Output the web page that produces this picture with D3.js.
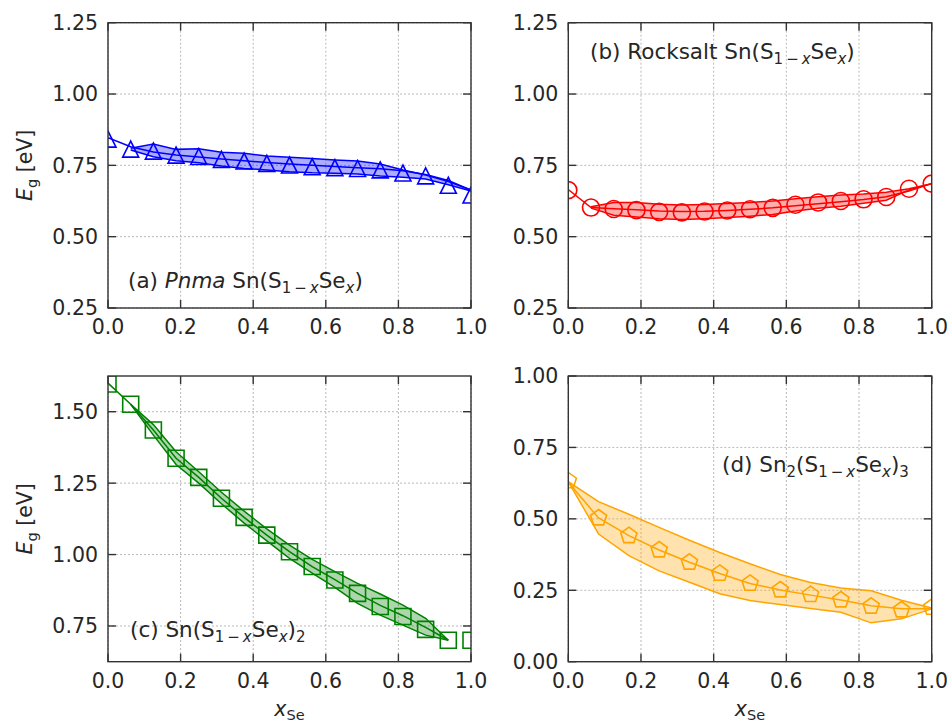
<!DOCTYPE html>
<html><head><meta charset="utf-8">
<script src="https://cdn.jsdelivr.net/npm/d3@7"></script>
<style>
body{margin:0;background:#fff}
svg{display:block}
text{font-family:"DejaVu Sans",sans-serif;fill:#262626}
</style>
</head><body>
<svg id="chart" width="948" height="724"></svg>
<script>
// ---------- tick values / labels ----------
const xTicks = [0.0, 0.2, 0.4, 0.6, 0.8, 1.0];
const xTickLabels = ["0.0", "0.2", "0.4", "0.6", "0.8", "1.0"];
const yTicksAB = [0.25, 0.50, 0.75, 1.00, 1.25];
const yTickLabelsAB = ["0.25", "0.50", "0.75", "1.00", "1.25"];
const yTicksC = [0.75, 1.00, 1.25, 1.50];
const yTickLabelsC = ["0.75", "1.00", "1.25", "1.50"];
const yTicksD = [0.00, 0.25, 0.50, 0.75, 1.00];
const yTickLabelsD = ["0.00", "0.25", "0.50", "0.75", "1.00"];

// ---------- compositions ----------
const x16 = [0, 0.0625, 0.125, 0.1875, 0.25, 0.3125, 0.375, 0.4375, 0.5, 0.5625, 0.625, 0.6875, 0.75, 0.8125, 0.875, 0.9375, 1.0];
const x16band = [0.0625, 0.125, 0.1875, 0.25, 0.3125, 0.375, 0.4375, 0.5, 0.5625, 0.625, 0.6875, 0.75, 0.8125, 0.875, 0.9375, 1.0];
const x16c = [0, 0.0625, 0.125, 0.1875, 0.25, 0.3125, 0.375, 0.4375, 0.5, 0.5625, 0.625, 0.6875, 0.75, 0.8125, 0.875, 0.9375];
const x16cBand = [0.0625, 0.125, 0.1875, 0.25, 0.3125, 0.375, 0.4375, 0.5, 0.5625, 0.625, 0.6875, 0.75, 0.8125, 0.875, 0.9375];
const x12 = [0, 0.0833, 0.1667, 0.25, 0.3333, 0.4167, 0.5, 0.5833, 0.6667, 0.75, 0.8333, 0.9167, 1.0];

// ---------- (a) Pnma Sn(S1-xSex) ----------
const pnmaMarkers = [0.842, 0.807, 0.800, 0.786, 0.781, 0.771, 0.765, 0.757, 0.751, 0.745, 0.742, 0.739, 0.734, 0.723, 0.713, 0.680, 0.646];
const pnmaLine    = [0.847, 0.815, 0.797, 0.786, 0.779, 0.772, 0.766, 0.760, 0.755, 0.750, 0.746, 0.742, 0.738, 0.731, 0.718, 0.697, 0.663];
const pnmaUpper   = [0.810, 0.825, 0.806, 0.808, 0.796, 0.792, 0.783, 0.778, 0.774, 0.769, 0.765, 0.755, 0.734, 0.716, 0.693, 0.663];
const pnmaLower   = [0.804, 0.780, 0.766, 0.759, 0.748, 0.739, 0.734, 0.728, 0.724, 0.722, 0.720, 0.713, 0.708, 0.702, 0.682, 0.660];

// ---------- (b) Rocksalt Sn(S1-xSex) ----------
const rsMarkers = [0.663, 0.602, 0.597, 0.593, 0.587, 0.585, 0.588, 0.592, 0.596, 0.601, 0.612, 0.620, 0.625, 0.631, 0.639, 0.668, 0.686];
const rsLine    = [0.665, 0.602, 0.598, 0.594, 0.590, 0.588, 0.589, 0.592, 0.596, 0.601, 0.608, 0.615, 0.622, 0.630, 0.640, 0.660, 0.686];
const rsUpper   = [0.605, 0.620, 0.620, 0.614, 0.611, 0.613, 0.616, 0.620, 0.625, 0.633, 0.640, 0.646, 0.650, 0.656, 0.668, 0.686];
const rsLower   = [0.600, 0.575, 0.569, 0.563, 0.560, 0.563, 0.567, 0.572, 0.578, 0.590, 0.600, 0.607, 0.617, 0.628, 0.664, 0.686];

// ---------- (c) Sn(S1-xSex)2 ----------
const s2Markers = [1.597, 1.526, 1.436, 1.337, 1.270, 1.197, 1.130, 1.068, 1.010, 0.958, 0.911, 0.864, 0.818, 0.783, 0.738, 0.700, 0.700];
const s2Line    = [1.600, 1.526, 1.436, 1.337, 1.270, 1.197, 1.130, 1.068, 1.010, 0.958, 0.912, 0.864, 0.822, 0.786, 0.745, 0.700];
const s2Upper   = [1.526, 1.455, 1.360, 1.290, 1.218, 1.152, 1.090, 1.033, 0.983, 0.940, 0.899, 0.862, 0.823, 0.777, 0.700];
const s2Lower   = [1.526, 1.418, 1.315, 1.250, 1.178, 1.110, 1.048, 0.987, 0.935, 0.885, 0.829, 0.788, 0.753, 0.718, 0.700];

// ---------- (d) Sn2(S1-xSex)3 ----------
const s23Markers = [0.633, 0.503, 0.441, 0.391, 0.348, 0.309, 0.274, 0.251, 0.235, 0.216, 0.194, 0.181, 0.190];
const s23Line    = [0.628, 0.503, 0.441, 0.391, 0.348, 0.309, 0.274, 0.251, 0.233, 0.216, 0.196, 0.185, 0.185];
const s23Upper   = [0.630, 0.560, 0.516, 0.470, 0.425, 0.382, 0.343, 0.305, 0.277, 0.258, 0.248, 0.215, 0.188];
const s23Lower   = [0.630, 0.447, 0.371, 0.318, 0.278, 0.238, 0.214, 0.200, 0.186, 0.173, 0.136, 0.150, 0.185];

// ---------- drawing ----------
const svg = d3.select("#chart");
const FS = 20.5, LFS = 21.5, SUB = 15, SUBDY = 5;

function richText(sel, segs, subSize, subDy) {
  let shifted = false;
  segs.forEach(s => {
    const ts = sel.append("tspan").text(s.t);
    if (s.i) ts.attr("font-style", "italic");
    if (s.sub) {
      ts.attr("font-size", subSize);
      if (!shifted) { ts.attr("dy", subDy); shifted = true; }
    } else if (shifted) {
      ts.attr("dy", -subDy); shifted = false;
    }
  });
}

const markerPath = {
  tri: s => `M0,${-s}L${-s},${s}L${s},${s}Z`,
  sq: s => `M${-s},${-s}L${s},${-s}L${s},${s}L${-s},${s}Z`,
  circ: s => { const p = d3.path(); p.arc(0, 0, s, 0, 2 * Math.PI); p.closePath(); return p.toString(); },
  pent: s => {
    const p = d3.path();
    for (let k = 0; k < 5; k++) {
      const a = -Math.PI / 2 + k * 2 * Math.PI / 5;
      const px = s * Math.cos(a), py = s * Math.sin(a);
      if (k === 0) p.moveTo(px, py); else p.lineTo(px, py);
    }
    p.closePath();
    return p.toString();
  }
};

const subX = [{t: "1\u2009\u2212\u2009", sub: 1}, {t: "x", sub: 1, i: 1}];
const panels = [
  {id: "a", box: [108, 471, 22.7, 308], yDom: [0.25, 1.25], yT: yTicksAB, yTL: yTickLabelsAB, ylab: true,
   color: "#0000ff", mk: "tri", ms: 8, mx: x16, my: pnmaMarkers, lx: x16, ly: pnmaLine, bx: x16band, bu: pnmaUpper, bl: pnmaLower,
   xlab: false, lab: [{t: "(a) "}, {t: "Pnma", i: 1}, {t: " Sn(S"}, ...subX, {t: "Se"}, {t: "x", sub: 1, i: 1}, {t: ")"}], labPos: [128, 288]},
  {id: "b", box: [568.3, 931.7, 22.7, 308], yDom: [0.25, 1.25], yT: yTicksAB, yTL: yTickLabelsAB, ylab: false,
   color: "#ff0000", mk: "circ", ms: 8.5, mx: x16, my: rsMarkers, lx: x16, ly: rsLine, bx: x16band, bu: rsUpper, bl: rsLower,
   xlab: false, lab: [{t: "(b) Rocksalt Sn(S"}, ...subX, {t: "Se"}, {t: "x", sub: 1, i: 1}, {t: ")"}], labPos: [590, 59]},
  {id: "c", box: [108, 471, 376, 661.7], yDom: [0.625, 1.625], yT: yTicksC, yTL: yTickLabelsC, ylab: true,
   color: "#008000", mk: "sq", ms: 8, mx: x16, my: s2Markers, lx: x16c, ly: s2Line, bx: x16cBand, bu: s2Upper, bl: s2Lower,
   xlab: true, lab: [{t: "(c) Sn(S"}, ...subX, {t: "Se"}, {t: "x", sub: 1, i: 1}, {t: ")"}, {t: "2", sub: 1}], labPos: [130, 637]},
  {id: "d", box: [568.3, 931.7, 376, 661.7], yDom: [0, 1], yT: yTicksD, yTL: yTickLabelsD, ylab: false,
   color: "#ffa500", mk: "pent", ms: 8.5, mx: x12, my: s23Markers, lx: x12, ly: s23Line, bx: x12, bu: s23Upper, bl: s23Lower,
   xlab: true, lab: [{t: "(d) Sn"}, {t: "2", sub: 1}, {t: "(S"}, ...subX, {t: "Se"}, {t: "x", sub: 1, i: 1}, {t: ")"}, {t: "3", sub: 1}], labPos: [722, 472]}
];

panels.forEach(P => {
  const [L, R, T, B] = P.box;
  const x = d3.scaleLinear().domain([0, 1]).range([L, R]);
  const y = d3.scaleLinear().domain(P.yDom).range([B, T]);
  const g = svg.append("g");
  const clipId = "clip-" + P.id;
  svg.append("clipPath").attr("id", clipId).append("rect")
    .attr("x", L).attr("y", T).attr("width", R - L).attr("height", B - T);

  // grid
  const grid = g.append("g").attr("stroke", "#b9b9b9").attr("stroke-width", 1).attr("stroke-dasharray", "2,2");
  xTicks.forEach(v => grid.append("line").attr("x1", x(v)).attr("x2", x(v)).attr("y1", T).attr("y2", B));
  P.yT.forEach(v => grid.append("line").attr("x1", L).attr("x2", R).attr("y1", y(v)).attr("y2", y(v)));

  const data = g.append("g").attr("clip-path", `url(#${clipId})`);
  const band = P.bx.map((v, i) => ({x: v, u: P.bu[i], l: P.bl[i]}));
  data.append("path").datum(band)
    .attr("d", d3.area().x(d => x(d.x)).y0(d => y(d.l)).y1(d => y(d.u)))
    .attr("fill", P.color).attr("fill-opacity", 0.32).attr("stroke", "none");
  ["u", "l"].forEach(k => {
    data.append("path").datum(band)
      .attr("d", d3.line().x(d => x(d.x)).y(d => y(d[k])))
      .attr("fill", "none").attr("stroke", P.color).attr("stroke-width", 1.5);
  });
  const ln = P.lx.map((v, i) => ({x: v, y: P.ly[i]}));
  data.append("path").datum(ln)
    .attr("d", d3.line().x(d => x(d.x)).y(d => y(d.y)))
    .attr("fill", "none").attr("stroke", P.color).attr("stroke-width", 1.5);
  const mk = P.mx.map((v, i) => ({x: v, y: P.my[i]}));
  data.selectAll("path.mk").data(mk).enter().append("path").attr("class", "mk")
    .attr("transform", d => `translate(${x(d.x)},${y(d.y)})`)
    .attr("d", markerPath[P.mk](P.ms))
    .attr("fill", "none").attr("stroke", P.color).attr("stroke-width", 1.6);

  // spines
  g.append("rect").attr("x", L).attr("y", T).attr("width", R - L).attr("height", B - T)
    .attr("fill", "none").attr("stroke", "#333").attr("stroke-width", 1.4);

  // inward ticks on all sides
  const tk = g.append("g").attr("stroke", "#333").attr("stroke-width", 1.4);
  const TL = 8;
  xTicks.forEach(v => {
    tk.append("line").attr("x1", x(v)).attr("x2", x(v)).attr("y1", B).attr("y2", B - TL);
    tk.append("line").attr("x1", x(v)).attr("x2", x(v)).attr("y1", T).attr("y2", T + TL);
  });
  P.yT.forEach(v => {
    tk.append("line").attr("x1", L).attr("x2", L + TL).attr("y1", y(v)).attr("y2", y(v));
    tk.append("line").attr("x1", R).attr("x2", R - TL).attr("y1", y(v)).attr("y2", y(v));
  });

  // tick labels
  xTicks.forEach((v, i) => g.append("text").attr("x", x(v)).attr("y", B + 26)
    .attr("text-anchor", "middle").attr("font-size", FS).text(xTickLabels[i]));
  P.yT.forEach((v, i) => g.append("text").attr("x", L - 10).attr("y", y(v)).attr("dy", "0.36em")
    .attr("text-anchor", "end").attr("font-size", FS).text(P.yTL[i]));

  // axis labels
  if (P.ylab) {
    const ylab = g.append("text").attr("font-size", FS).attr("text-anchor", "middle")
      .attr("transform", `translate(${L - 76},${(T + B) / 2}) rotate(-90)`);
    richText(ylab, [{t: "E", i: 1}, {t: "g", sub: 1}, {t: " [eV]"}], 14.5, 4.5);
  }
  if (P.xlab) {
    const xl = g.append("text").attr("font-size", FS).attr("text-anchor", "middle")
      .attr("x", (L + R) / 2).attr("y", 716);
    richText(xl, [{t: "x", i: 1}, {t: "Se", sub: 1}], 14.5, 3.5);
  }

  // panel label
  const pl = g.append("text").attr("font-size", LFS).attr("x", P.labPos[0]).attr("y", P.labPos[1]);
  richText(pl, P.lab, SUB, SUBDY);
});
</script>
</body></html>
